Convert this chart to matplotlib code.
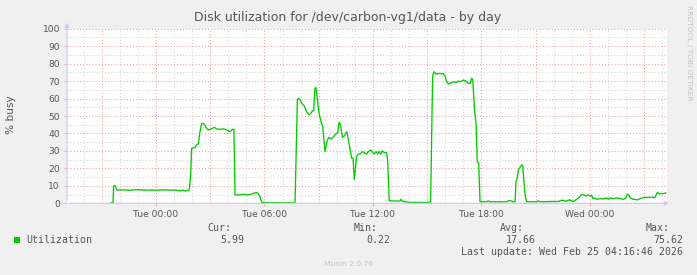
import matplotlib
matplotlib.use("Agg")
import matplotlib.pyplot as plt
import numpy as np

# ---- data: hours relative to Tue 00:00, % busy ----
hours = [
    -2.49, -2.38, -2.34, -2.25, -2.17, -2.14, -1.81, -1.44, -1.07, -0.70, -0.33, 0.04, 0.40, 0.77,
    1.14, 1.33, 1.47, 1.60, 1.73, 1.84, 1.92, 1.97, 2.16, 2.25, 2.34, 2.43, 2.53, 2.65, 2.80, 2.89,
    3.04, 3.23, 3.36, 3.54, 3.76, 3.91, 4.09, 4.24, 4.31, 4.37, 4.65, 4.83, 5.01, 5.20, 5.38, 5.57,
    5.66, 5.75, 5.85, 6.31, 6.86, 7.41, 7.69, 7.82, 7.93, 8.06, 8.20, 8.33, 8.46, 8.57, 8.65, 8.72,
    8.79, 8.85, 8.94, 9.02, 9.13, 9.22, 9.29, 9.35, 9.40, 9.48, 9.57, 9.68, 9.81, 9.94, 10.05, 10.12,
    10.19, 10.31, 10.42, 10.49, 10.56, 10.64, 10.73, 10.82, 10.90, 10.97, 11.04, 11.10, 11.19, 11.30,
    11.41, 11.52, 11.65, 11.74, 11.87, 11.96, 12.07, 12.17, 12.26, 12.33, 12.43, 12.52, 12.63, 12.76,
    12.81, 12.90, 13.22, 13.50, 13.55, 13.63, 14.05, 14.60, 15.06, 15.19, 15.30, 15.38, 15.49, 15.61,
    15.75, 15.89, 15.98, 16.08, 16.17, 16.30, 16.44, 16.59, 16.72, 16.85, 17.00, 17.15, 17.27, 17.37,
    17.46, 17.52, 17.61, 17.70, 17.77, 17.85, 17.92, 18.29, 18.38, 18.47, 18.93, 19.40, 19.49, 19.67,
    19.73, 19.86, 19.91, 19.98, 20.04, 20.13, 20.22, 20.28, 20.35, 20.42, 20.50, 21.06, 21.15, 21.24,
    22.31, 22.38, 22.53, 22.68, 22.86, 22.99, 23.08, 23.27, 23.41, 23.55, 23.67, 23.78, 23.91, 24.00,
    24.10, 24.15, 24.28, 24.37, 24.56, 24.74, 24.92, 25.01, 25.11, 25.29, 25.51, 25.66, 25.85, 25.98,
    26.07, 26.15, 26.22, 26.37, 26.49, 26.62, 26.77, 26.92, 27.14, 27.60, 27.73, 27.84, 27.97, 28.15,
    28.19,
]
busy = [
    0.3, 0.3, 10.0, 10.0, 7.8, 7.6, 7.7, 7.5, 7.8, 7.6, 7.6, 7.5, 7.7, 7.6,
    7.5, 7.1, 7.6, 7.0, 7.5, 7.6, 16.6, 31.5, 32.0, 33.5, 34.0, 41.0, 45.8, 45.5, 43.0, 42.0,
    42.5, 43.5, 42.6, 42.4, 42.6, 42.0, 41.0, 42.4, 42.4, 4.8, 4.8, 5.2, 4.8, 5.0, 5.7, 6.2,
    5.5, 3.8, 0.5, 0.3, 0.3, 0.3, 0.3, 59.6, 60.0, 57.3, 55.7, 52.5, 50.6, 51.5, 53.0, 53.0,
    65.9, 66.3, 58.0, 51.5, 46.7, 43.9, 36.3, 29.6, 32.4, 36.3, 37.8, 36.8, 38.1, 39.7, 40.4, 46.2,
    45.8, 37.8, 38.6, 40.0, 41.0, 36.3, 31.5, 25.8, 26.0, 13.7, 20.6, 27.1, 28.2, 28.2,
    29.6, 29.0, 28.2, 29.6, 30.5, 29.6, 28.2, 29.6, 28.2, 29.6, 28.2, 30.0, 29.0, 29.0,
    24.8, 1.5, 1.3, 1.3, 2.3, 1.2, 0.5, 0.5, 0.5, 0.9, 72.9, 75.4, 74.0, 74.4,
    74.2, 74.2, 72.9, 69.7, 68.3, 69.0, 69.6, 69.2, 70.0, 69.6, 70.6, 70.0, 68.7, 68.7,
    71.6, 70.8, 54.4, 45.8, 23.8, 22.9, 0.9, 0.9, 1.4, 0.9, 0.9, 0.9, 1.4, 1.4,
    0.9, 0.9, 12.4, 14.3, 19.1, 20.6, 21.9, 21.9, 12.4, 4.2, 0.9, 0.9, 1.4, 0.9,
    1.1, 1.7, 1.7, 1.1, 2.0, 1.5, 0.9, 2.3, 3.4, 5.2, 4.8, 4.2, 4.8, 4.2,
    4.6, 2.9, 2.9, 2.3, 2.7, 2.5, 3.1, 2.3, 3.1, 2.7, 3.1, 2.7, 2.3, 2.9,
    5.2, 4.8, 3.2, 2.3, 2.3, 1.9, 2.7, 3.2, 3.4, 3.4, 6.3, 5.3, 5.5, 5.7,
    5.99,
]

x_tick_hours = [0, 6, 12, 18, 24]
x_tick_labels = ["Tue 00:00", "Tue 06:00", "Tue 12:00", "Tue 18:00", "Wed 00:00"]

title = "Disk utilization for /dev/carbon-vg1/data - by day"
ylabel = "% busy"
series_name = "Utilization"
stat_names = ["Cur:", "Min:", "Avg:", "Max:"]
stat_values = ["5.99", "0.22", "17.66", "75.62"]
last_update = "Last update: Wed Feb 25 04:16:46 2026"
footer = "Munin 2.0.76"
side_text = "RRDTOOL / TOBI OETIKER"

# ---- figure ----
W, H = 697, 275
fig = plt.figure(figsize=(W / 100, H / 100), dpi=100, facecolor="#f0f0f0")

left_px, right_px = 67, 667
top_px, bottom_px = 28.7, 203.3
ax = fig.add_axes([left_px / W, 1 - bottom_px / H, (right_px - left_px) / W, (bottom_px - top_px) / H])
ax.set_facecolor("white")

x0 = (left_px - 156) / 18.08
x1 = (right_px - 156) / 18.08
ax.set_xlim(x0, x1)
ax.set_ylim(0, 100)

for s in ax.spines.values():
    s.set_visible(False)

# grid
grey = "#d4d4d4"
red = "#e8a4a4"
for h in np.arange(np.ceil(x0), x1, 1):
    col = red if int(h) % 3 == 0 else grey
    ax.axvline(h, color=col, lw=0.75, ls=(0, (1, 2)), zorder=1)
for v in range(5, 101, 5):
    col = red if v % 10 == 0 else grey
    ax.axhline(v, color=col, lw=0.75, ls=(0, (1, 2)), zorder=1)

ax.plot(hours, busy, color="#00cc00", lw=0.95, zorder=3)

ax.set_xticks(x_tick_hours)
ax.set_xticklabels(x_tick_labels)
ax.set_yticks(range(0, 101, 10))
ax.tick_params(axis="both", labelsize=6.6, colors=red, labelcolor="#555555", length=2, width=0.6, pad=3)

# axis lines with arrows
axis_col = "#c8c8f0"
ax.annotate("", xy=(0, 1.05), xytext=(0, 0), xycoords="axes fraction",
            arrowprops=dict(arrowstyle="-|>", color=axis_col, lw=0.8, mutation_scale=6), zorder=4,
            annotation_clip=False)
ax.annotate("", xy=(1.008, 0), xytext=(0, 0), xycoords="axes fraction",
            arrowprops=dict(arrowstyle="-|>", color=axis_col, lw=0.8, mutation_scale=6), zorder=4,
            annotation_clip=False)

def fx(px):
    return px / W

def fy(py):
    return 1 - py / H

fig.text(fx(348), fy(17), title, ha="center", va="center", fontsize=9.0, color="#555555")
fig.text(fx(11), fy(115), ylabel, ha="center", va="center", rotation=90, fontsize=7.6, color="#555555")
fig.text(fx(689), fy(5), side_text, ha="center", va="top", rotation=270, fontsize=5.4, color="#c4c4c4")

mono = "DejaVu Sans Mono"
fs = 7.1
fig.patches.append(plt.Rectangle((fx(14), fy(243)), 6 / W, 6 / H, transform=fig.transFigure,
                                 facecolor="#00cc00", edgecolor="none"))
fig.text(fx(26), fy(240), series_name, ha="left", va="center", family=mono, fontsize=fs, color="#555555")

label_right = [231, 378, 524, 670]
value_right = [244, 390, 536, 683]
for name, val, lr, vr in zip(stat_names, stat_values, label_right, value_right):
    fig.text(fx(lr), fy(228), name, ha="right", va="center", family=mono, fontsize=fs, color="#555555")
    fig.text(fx(vr), fy(240), val, ha="right", va="center", family=mono, fontsize=fs, color="#555555")
fig.text(fx(683), fy(252), last_update, ha="right", va="center", family=mono, fontsize=fs, color="#555555")
fig.text(fx(348), fy(264), footer, ha="center", va="center", fontsize=5.4, color="#c4c4c4")

fig.savefig("out.png", dpi=100, facecolor=fig.get_facecolor())
